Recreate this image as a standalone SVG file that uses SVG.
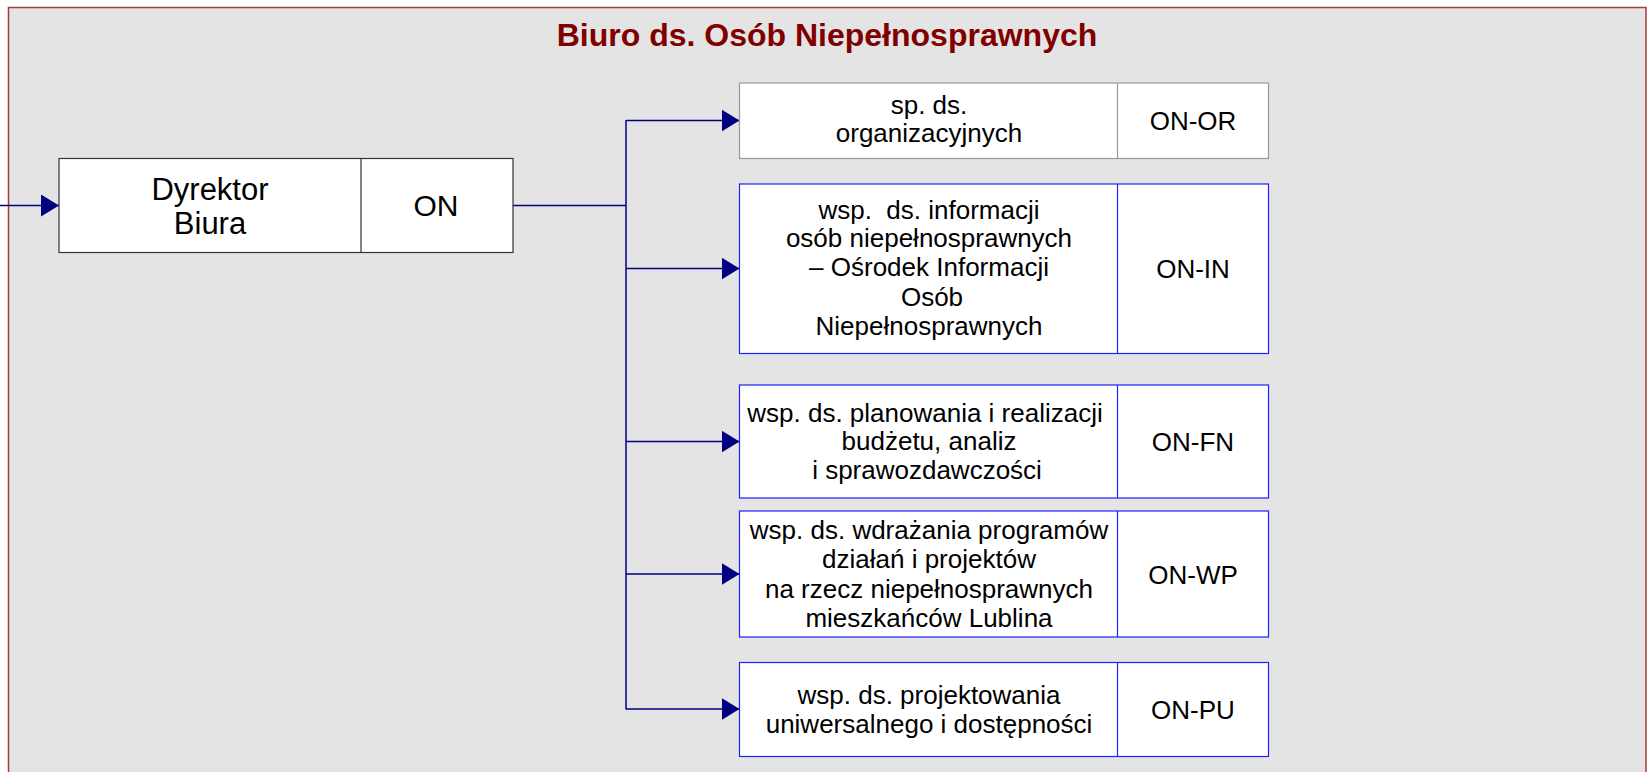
<svg xmlns="http://www.w3.org/2000/svg" width="1647" height="772" viewBox="0 0 1647 772">
<style>
.t{font-family:"Liberation Sans",Arial,sans-serif;fill:#000;text-anchor:middle;white-space:pre}
.b26{font-size:26px}
.b30{font-size:30px}
.b31{font-size:31px}
.box{fill:#fff;stroke-width:1.2}
.gray{stroke:#999}
.blue{stroke:#2020ff}
.dark{stroke:#333}
.conn{stroke:#000080;stroke-width:1.5;fill:none}
</style>
<defs>
<marker id="arr" markerWidth="18" markerHeight="22" refX="18" refY="11" orient="auto" markerUnits="userSpaceOnUse">
<path d="M0,0 L18,11 L0,22 Z" fill="#000080"/>
</marker>
</defs>
<rect x="0" y="0" width="1647" height="772" fill="#fff"/>
<rect id="frame" x="8.5" y="7.5" width="1637.5" height="800" fill="#e4e4e4" stroke="#a83a3a" stroke-width="1.5"/>
<text id="title" x="827" y="46" style="font-family:'Liberation Sans',Arial,sans-serif;font-size:32px;font-weight:bold;fill:#800000;text-anchor:middle">Biuro ds. Osób Niepełnosprawnych</text>

<g id="connectors">
<line class="conn" x1="0" y1="205.5" x2="59" y2="205.5" marker-end="url(#arr)"/>
<line class="conn" x1="513" y1="205.5" x2="626" y2="205.5"/>
<line class="conn" x1="626" y1="120" x2="626" y2="709.5"/>
<line class="conn" x1="626" y1="120.5" x2="739.5" y2="120.5" marker-end="url(#arr)"/>
<line class="conn" x1="626" y1="268.5" x2="739.5" y2="268.5" marker-end="url(#arr)"/>
<line class="conn" x1="626" y1="441.5" x2="739.5" y2="441.5" marker-end="url(#arr)"/>
<line class="conn" x1="626" y1="574" x2="739.5" y2="574" marker-end="url(#arr)"/>
<line class="conn" x1="626" y1="709" x2="739.5" y2="709" marker-end="url(#arr)"/>
</g>

<g id="node-on">
<rect class="box dark" x="59" y="158.5" width="454" height="94"/>
<line class="dark" x1="361" y1="158.5" x2="361" y2="252.5" stroke-width="1.2"/>
<text class="t b31" x="210" y="199.5">Dyrektor</text>
<text class="t b31" x="210" y="234">Biura</text>
<text class="t b30" x="436" y="215.5">ON</text>
</g>

<g id="node-on-or">
<rect class="box gray" x="739.5" y="83" width="529" height="75.5"/>
<line class="gray" x1="1117.5" y1="83" x2="1117.5" y2="158.5" stroke-width="1.2"/>
<text class="t b26" x="929" y="113.5">sp. ds.</text>
<text class="t b26" x="929" y="142">organizacyjnych</text>
<text class="t b26" x="1193" y="130">ON-OR</text>
</g>

<g id="node-on-in">
<rect class="box blue" x="739.5" y="184" width="529" height="169.5"/>
<line class="blue" x1="1117.5" y1="184" x2="1117.5" y2="353.5" stroke-width="1.2"/>
<text class="t b26" x="929" y="218.5">wsp.  ds. informacji</text>
<text class="t b26" x="929" y="247">osób niepełnosprawnych</text>
<text class="t b26" x="929" y="276">– Ośrodek Informacji</text>
<text class="t b26" x="932" y="305.5">Osób</text>
<text class="t b26" x="929" y="335">Niepełnosprawnych</text>
<text class="t b26" x="1193" y="278">ON-IN</text>
</g>

<g id="node-on-fn">
<rect class="box blue" x="739.5" y="385" width="529" height="113"/>
<line class="blue" x1="1117.5" y1="385" x2="1117.5" y2="498" stroke-width="1.2"/>
<text class="t b26" x="925" y="421.5">wsp. ds. planowania i realizacji</text>
<text class="t b26" x="929" y="450">budżetu, analiz</text>
<text class="t b26" x="927" y="479">i sprawozdawczości</text>
<text class="t b26" x="1193" y="451">ON-FN</text>
</g>

<g id="node-on-wp">
<rect class="box blue" x="739.5" y="511" width="529" height="126"/>
<line class="blue" x1="1117.5" y1="511" x2="1117.5" y2="637" stroke-width="1.2"/>
<text class="t b26" x="929" y="538.5">wsp. ds. wdrażania programów</text>
<text class="t b26" x="929" y="567.5">działań i projektów</text>
<text class="t b26" x="929" y="597.5">na rzecz niepełnosprawnych</text>
<text class="t b26" x="929" y="626.5">mieszkańców Lublina</text>
<text class="t b26" x="1193" y="583.5">ON-WP</text>
</g>

<g id="node-on-pu">
<rect class="box blue" x="739.5" y="662.5" width="529" height="94"/>
<line class="blue" x1="1117.5" y1="662.5" x2="1117.5" y2="756.5" stroke-width="1.2"/>
<text class="t b26" x="929" y="703.5">wsp. ds. projektowania</text>
<text class="t b26" x="929" y="732.5">uniwersalnego i dostępności</text>
<text class="t b26" x="1193" y="718.5">ON-PU</text>
</g>
</svg>
